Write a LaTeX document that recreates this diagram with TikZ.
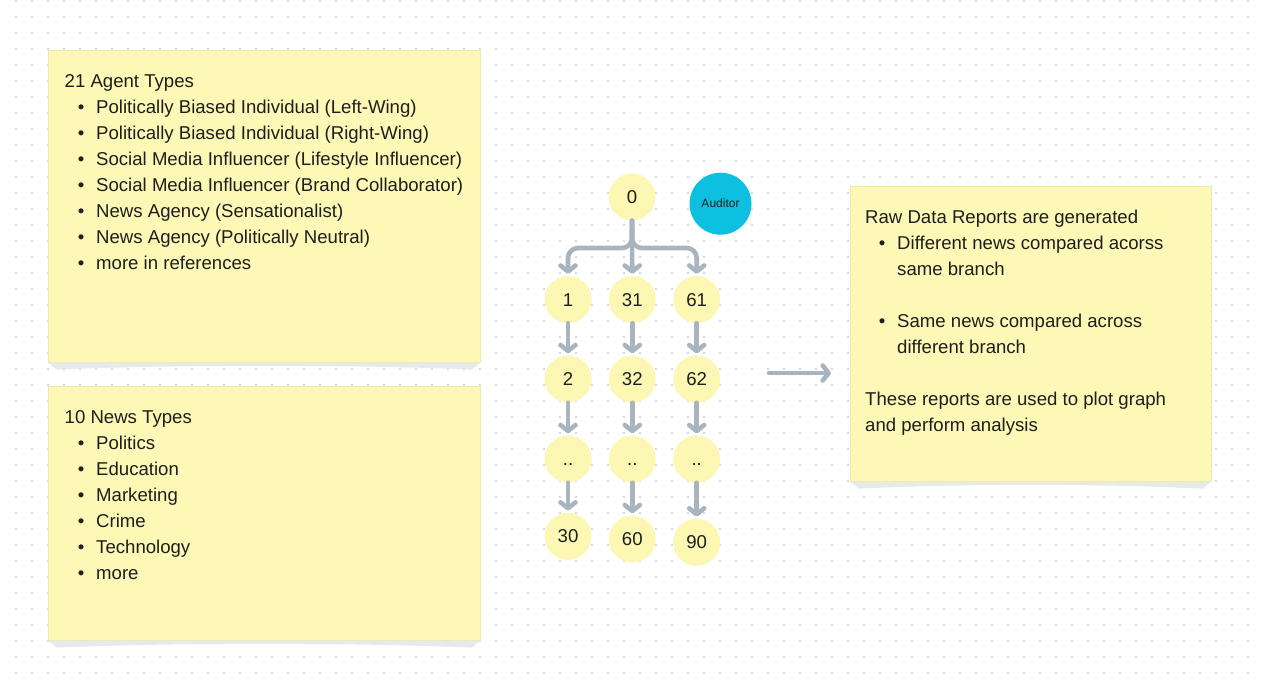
\documentclass[tikz,border=0pt]{standalone}
\usepackage{fontspec}
\setmainfont{Liberation Sans}
\usetikzlibrary{calc,arrows.meta}
\definecolor{notey}{HTML}{FDF8B6}
\definecolor{noteedge}{HTML}{F1EAA6}
\definecolor{bally}{HTML}{FDF7B4}
\definecolor{audc}{HTML}{0EC0DF}
\definecolor{flowgray}{HTML}{A9B4BC}
\definecolor{gridc}{HTML}{C6CBD4}
\definecolor{shadec}{HTML}{E8E9EB}
\definecolor{ink}{HTML}{1E1E1E}
\tikzset{%
  note/.style={draw=noteedge,line width=0.6pt,fill=notey,anchor=north west,inner sep=0},
  papershade/.style={fill=shadec},
  numdot/.style={shape=circle,fill=bally,minimum size=47pt,inner sep=0,text=ink,
    text height=13.3pt,text depth=0pt,font=\fontsize{18.6}{22}\selectfont},
  flow/.style={draw=flowgray,line width=4.6pt,line cap=round,
    -{Straight Barb[length=6pt,width=15pt,round]},shorten >=2pt},
  txt/.style={anchor=base west,inner sep=0,text=ink,font=\fontsize{18.6}{26}\selectfont},
  itm/.style={txt,execute at begin node={\llap{\textbullet\hspace{11.8pt}}}}
}
\begin{document}
\begin{tikzpicture}[x=1pt,y=-1pt]
  \useasboundingbox[fill=white] (0,0) rectangle (1264,686);
  % dotted grid
  \foreach \i in {1,...,78}
    \foreach \j in {0,...,42}
      \fill[gridc] (16*\i,{16*\j+1}) circle (1.1);
  % sticky notes
  \node[note,minimum width=432,minimum height=312] (agents) at (48,50) {};
  \node[note,minimum width=432,minimum height=254] (news) at (48,386) {};
  \node[note,minimum width=361,minimum height=295] (reports) at (850,186) {};
  \foreach \nt in {agents,news,reports}
    \fill[papershade] (\nt.south west) -- ++(9,7)
      .. controls +(110,-5) and +(-110,-5) .. ($(\nt.south east)+(-9,7)$)
      -- (\nt.south east) -- cycle;
  % agent types
  \node[txt] (agtitle) at (64.5,87.5) {21 Agent Types};
  \foreach \t [count=\i] in {Politically Biased Individual (Left-Wing),
      Politically Biased Individual (Right-Wing),
      Social Media Influencer (Lifestyle Influencer),
      Social Media Influencer (Brand Collaborator),
      News Agency (Sensationalist),
      News Agency (Politically Neutral),
      more in references}
    \node[itm] (ag\i) at (96,{87.5+26*\i}) {\t};
  % news types
  \node[txt] (nwtitle) at (64.5,423.5) {10 News Types};
  \foreach \t [count=\i] in {Politics,Education,Marketing,Crime,Technology,more}
    \node[itm] (nw\i) at (96,{423.5+26*\i}) {\t};
  % reports
  \node[txt] (rptitle) at (865,223.3) {Raw Data Reports are generated};
  \node[itm] (rp1) at (897,249.3) {Different news compared acorss};
  \node[txt] (rp1b) at (897,275.3) {same branch};
  \node[itm] (rp2) at (897,327.3) {Same news compared across};
  \node[txt] (rp2b) at (897,353.3) {different branch};
  \node[txt] (rp3) at (865,405.3) {These reports are used to plot graph};
  \node[txt] (rp3b) at (865,431.3) {and perform analysis};
  % branch tree
  \path
    (632,197) node (n0)[numdot]{0}
    (720.5,203.7) node (aud)[shape=circle,fill=audc,minimum size=62pt,inner sep=0,
      text=ink,font=\fontsize{12}{14}\selectfont]{Auditor}
    (568,299.5) node (n1)[numdot]{1}
    (632.3,299.5) node (n31)[numdot]{31}
    (696.7,299.5) node (n61)[numdot]{61}
    (568,379) node (n2)[numdot]{2}
    (632.3,379) node (n32)[numdot]{32}
    (696.7,379) node (n62)[numdot]{62}
    (568,459) node (d1)[numdot]{..}
    (632.3,459) node (d2)[numdot]{..}
    (696.7,459) node (d3)[numdot]{..}
    (568,536.3) node (n30)[numdot]{30}
    (632.3,539) node (n60)[numdot]{60}
    (696.7,542.3) node (n90)[numdot]{90};
  \coordinate (fork) at (632,248);
  \draw[flow,rounded corners=10pt] (n0) -- (fork) -| (n1);
  \draw[flow,rounded corners=10pt] (n0) -- (fork) -| (n61);
  \draw[flow] (n0) -- (n31);
  \foreach \a/\b in {n1/n2,n2/d1,d1/n30,n31/n32,n32/d2,d2/n60,n61/n62,n62/d3,d3/n90}
    \draw[flow] (\a) -- (\b);
  % to the reports
  \coordinate (treeout) at (769,373);
  \coordinate (rpin) at (831,373);
  \draw[flow,shorten >=0pt] (treeout) -- (rpin);
\end{tikzpicture}
\end{document}
